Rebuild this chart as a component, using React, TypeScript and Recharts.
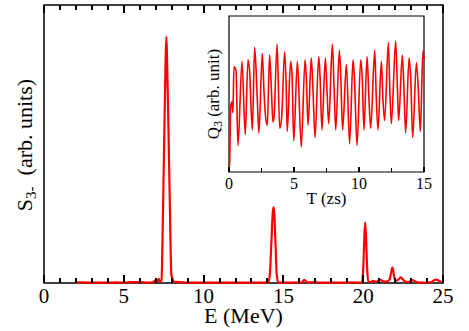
import React from 'react';
import { ComposedChart, LineChart, Line, XAxis, YAxis, ReferenceArea } from 'recharts';

// main spectrum S3-(E)
const energy = [
  2, 2.5, 3, 3.5, 4, 4.5, 5, 5.5, 6, 6.5, 6.8, 7.04, 7.12, 7.19, 7.27, 7.36, 7.46, 7.55, 7.62,
  7.67, 7.72, 7.79, 7.88, 7.98, 8.07, 8.15, 8.3, 9, 10, 11, 12, 13, 13.8, 14.05, 14.15, 14.25,
  14.33, 14.38, 14.43, 14.5, 14.58, 14.68, 14.8, 15.2, 15.8, 16.1, 16.31, 16.5, 16.8, 17.3,
  18, 18.7, 19.3, 19.8, 19.92, 20.0, 20.07, 20.125, 20.18, 20.25, 20.33, 20.45, 20.6, 20.8,
  21.04, 21.25, 21.46, 21.65, 21.83, 21.95, 22.04, 22.2, 22.35, 22.5, 22.67, 22.85, 23.08,
  23.25, 23.4, 23.8, 24.2, 24.54, 24.75, 24.9,
];
const strength = [
  0.002, 0.002, 0.001, 0.001, 0.001, 0.002, 0.001, 0.003, 0.003, 0.001, 0.002, 0.012, 0.006,
  0.015, 0.005, 0.01, 0.27, 0.58, 0.8, 0.885, 0.78, 0.58, 0.3, 0.03, 0.012, 0.003, 0.004,
  0.001, 0.001, 0.001, 0.001, 0.001, 0.001, 0.002, 0.03, 0.15, 0.25, 0.272, 0.25, 0.15, 0.03,
  0.003, 0.001, 0.001, 0.002, 0.001, 0.011, 0.002, 0.003, 0.001, 0.001, 0.001, 0.002, 0.001,
  0.002, 0.05, 0.16, 0.217, 0.16, 0.05, 0.005, 0.003, 0.008, 0.004, 0.012, 0.006, 0.005,
  0.012, 0.056, 0.02, 0.008, 0.012, 0.02, 0.012, 0.004, 0.004, 0.01, 0.006, 0.002, 0.001,
  0.002, 0.012, 0.008, 0.002,
];
const energyTicks = Array.from({ length: 26 }, (_, i) => i);

// inset time series Q3(T)
const time = [
  0, 0.05, 0.13, 0.23, 0.3, 0.38, 0.54, 0.69, 1.0, 1.25, 1.46, 1.59, 1.68, 1.8, 1.97, 2.17,
  2.3, 2.56, 2.7, 2.82, 2.95, 3.12, 3.25, 3.38, 3.47, 3.7, 3.9, 4.05, 4.28, 4.4, 4.48, 4.74,
  4.85, 4.98, 5.26, 5.56, 5.85, 5.95, 6.08, 6.33, 6.45, 6.62, 6.9, 7.0, 7.15, 7.41, 7.55,
  7.67, 7.95, 8.08, 8.21, 8.49, 8.6, 8.74, 9.03, 9.28, 9.54, 9.65, 9.85, 10.13, 10.25, 10.38,
  10.62, 10.75, 10.9, 11.21, 11.32, 11.46, 11.72, 11.85, 11.97, 12.26, 12.38, 12.49, 12.82,
  12.95, 13.05, 13.33, 13.45, 13.59, 13.85, 13.98, 14.13, 14.41, 14.55, 14.72, 14.92, 15.0,
];
const moment = [
  0.02, 0.06, 0.42, 0.45, 0.38, 0.675, 0.65, 0.17, 0.71, 0.24, 0.72, 0.64, 0.45, 0.27, 0.8,
  0.48, 0.25, 0.76, 0.5, 0.35, 0.3, 0.75, 0.55, 0.32, 0.36, 0.82, 0.28, 0.35, 0.77, 0.55,
  0.26, 0.71, 0.62, 0.2, 0.71, 0.16, 0.72, 0.6, 0.3, 0.73, 0.55, 0.22, 0.74, 0.62, 0.27,
  0.73, 0.5, 0.31, 0.82, 0.55, 0.27, 0.78, 0.6, 0.27, 0.69, 0.18, 0.72, 0.6, 0.17, 0.72,
  0.6, 0.27, 0.74, 0.5, 0.28, 0.78, 0.5, 0.27, 0.71, 0.45, 0.33, 0.83, 0.5, 0.31, 0.84,
  0.55, 0.33, 0.75, 0.55, 0.25, 0.73, 0.6, 0.22, 0.7, 0.55, 0.26, 0.78, 0.72,
];
const timeTicks = [0, 2.5, 5, 7.5, 10, 12.5, 15];

const spectrum = energy.map((e, i) => ({ e, s: strength[i] }));
const series = time.map((t, i) => ({ t, q: moment[i] }));

const SERIF = 'Liberation Serif, DejaVu Serif, serif';
const FRAME_TOP = 5;

// bottom tick also draws its mirror on the top edge of the frame
const BottomTick = (props: any) => {
  const { x, y, payload } = props;
  const major = payload.value % 5 === 0;
  const len = major ? 8 : 5;
  return (
    <g>
      <line x1={x} x2={x} y1={y} y2={y - len} stroke="#000" strokeWidth={2} shapeRendering="crispEdges" />
      <line x1={x} x2={x} y1={FRAME_TOP} y2={FRAME_TOP + len} stroke="#000" strokeWidth={2} shapeRendering="crispEdges" />
      {major && (
        <text x={x} y={y + 20} textAnchor="middle" fontSize={21} fontFamily={SERIF} fill="#000">
          {payload.value}
        </text>
      )}
    </g>
  );
};

const InsetTick = (props: any) => {
  const { x, y, payload } = props;
  const major = payload.value % 5 === 0;
  return (
    <g>
      <line x1={x} x2={x} y1={y} y2={y - (major ? 5 : 4)} stroke="#000" strokeWidth={1.5} shapeRendering="crispEdges" />
      {major && (
        <text x={x} y={y + 17} textAnchor="middle" fontSize={16} fontFamily={SERIF} fill="#000">
          {payload.value}
        </text>
      )}
    </g>
  );
};

const title: React.CSSProperties = {
  position: 'absolute',
  fontFamily: SERIF,
  color: '#000',
  whiteSpace: 'nowrap',
  lineHeight: 1,
};
const sub: React.CSSProperties = { fontSize: '0.68em', verticalAlign: '-0.3em', lineHeight: 0 };

export default function App() {
  return (
    <div style={{ position: 'absolute', left: 0, top: 0, width: 469, height: 331, background: '#fff' }}>
      <ComposedChart width={469} height={331} data={spectrum} margin={{ top: FRAME_TOP, right: 26, bottom: 0, left: 44 }}>
        <ReferenceArea x1={0} x2={25} y1={0} y2={1} fill="none" stroke="#000" strokeWidth={1.5} ifOverflow="visible" />
        <XAxis
          dataKey="e"
          type="number"
          domain={[0, 25]}
          ticks={energyTicks}
          interval={0}
          height={48}
          tickSize={0}
          tickMargin={0}
          tickLine={false}
          tick={<BottomTick />}
          axisLine={false}
        />
        <YAxis domain={[0, 1]} hide />
        <Line type="monotone" dataKey="s" stroke="#ff0000" strokeWidth={2.2} dot={false} isAnimationActive={false} />
      </ComposedChart>

      <div style={{ ...title, left: 243.5, top: 316, fontSize: 22, transform: 'translate(-50%, -50%)' }}>E (MeV)</div>
      <div style={{ ...title, left: 25, top: 145, fontSize: 22, transform: 'translate(-50%, -50%) rotate(-90deg)' }}>
        S<span style={sub}>3-</span>&nbsp; (arb. units)
      </div>

      <div style={{ position: 'absolute', left: 199, top: 6, width: 260, height: 210 }}>
        <LineChart width={260} height={210} data={series} margin={{ top: 10, right: 35, bottom: 0, left: 30 }}>
          <ReferenceArea x1={0} x2={15} y1={0} y2={1} fill="none" stroke="#000" strokeWidth={1.2} ifOverflow="visible" />
          <XAxis
            dataKey="t"
            type="number"
            domain={[0, 15]}
            ticks={timeTicks}
            interval={0}
            height={44}
            tickSize={0}
            tickMargin={0}
            tickLine={false}
            tick={<InsetTick />}
            axisLine={false}
          />
          <YAxis domain={[0, 1]} hide />
          <Line type="monotone" dataKey="q" stroke="#ff0000" strokeWidth={1.6} dot={false} isAnimationActive={false} />
        </LineChart>
      </div>

      <div style={{ ...title, left: 326.5, top: 198, fontSize: 17, transform: 'translate(-50%, -50%)' }}>T (zs)</div>
      <div style={{ ...title, left: 213, top: 94, fontSize: 17, transform: 'translate(-50%, -50%) rotate(-90deg)' }}>
        Q<span style={sub}>3</span> (arb. unit)
      </div>
    </div>
  );
}
